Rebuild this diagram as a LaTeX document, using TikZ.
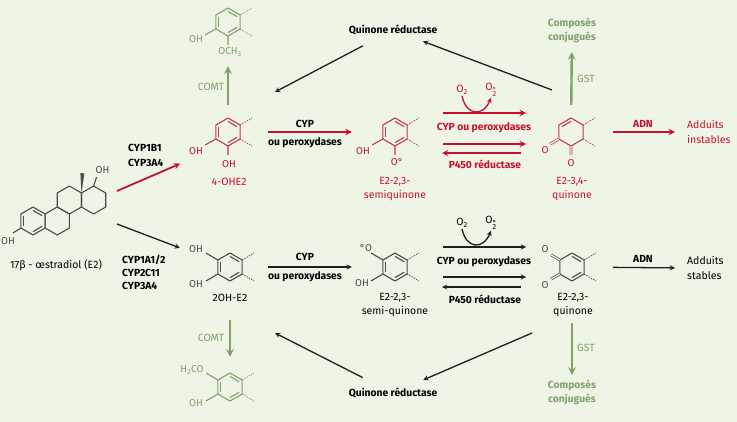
\documentclass[tikz,border=0pt]{standalone}
\usepackage{fontspec}
\setmainfont{Fira Sans}
\usepackage{tikz}
\usetikzlibrary{arrows}
\definecolor{bgcol}{RGB}{238,245,230}
\definecolor{adnred}{RGB}{200,16,46}
\definecolor{ringred}{RGB}{196,58,70}
\definecolor{gstgreen}{RGB}{128,160,108}
\definecolor{inkgray}{RGB}{30,30,30}
\definecolor{ringgray}{RGB}{75,75,75}
\tikzstyle{lab} = [font=\fontsize{10.3}{14}\selectfont\bfseries, align=center, inner sep=1pt]
\tikzstyle{txt} = [font=\fontsize{10.5}{14.5}\selectfont, align=center, inner sep=1pt]
\tikzstyle{atom} = [font=\fontsize{10}{11}\selectfont, inner sep=0pt]
\tikzstyle{mol} = [inner sep=0pt, minimum size=0pt]
\tikzstyle{bond} = [line width=1.1pt, line join=round]
\tikzstyle{stub} = [line width=0.8pt, dash pattern=on 1.4pt off 1.2pt]
\tikzstyle{dbond} = [line width=0.7pt, double=bgcol, double distance=1.3pt]
\tikzstyle{rarrow} = [line width=1.8pt,->,>=stealth,draw=adnred]
\tikzstyle{barrow} = [line width=1.3pt,->,>=stealth,draw=inkgray]
\tikzstyle{garrow} = [line width=2.4pt,->,>=stealth,draw=gstgreen]
\newcommand{\molring}[2]{\draw[#2, bond, shift={(#1)}] (0,-14) -- (12.12,-7) -- (12.12,7) -- (0,14) -- (-12.12,7) -- (-12.12,-7) -- cycle;}
\newcommand{\molinner}[3]{\foreach \a in {#3} \draw[#2, bond, shift={(#1)}] (-\a:10.6) -- (-\a+60:10.6);}
\newcommand{\molstubs}[2]{\draw[#2, stub, shift={(#1)}] (12.12,-7) -- (24,-14) (12.12,7) -- (24,14);}

\begin{document}
\begin{tikzpicture}[x=1pt,y=-1pt]
    \fill[bgcol] (0,0) rectangle (737,422);
    \useasboundingbox (0,0) rectangle (737,422);

    \node (ringa) [mol] at (33,221) {};
    \node (ringb) [mol] at (57.24,221) {};
    \node (ringc) [mol] at (69.36,200) {};
    \node (ringd) [mol] at (93.6,200) {};
    \node (e2) [mol] at (117,207.5) {};
    \node (meth) [mol] at (228,22) {};
    \node (ohe2) [mol] at (228,132) {};
    \node (semi) [mol] at (395,132) {};
    \node (q34) [mol] at (571,132) {};
    \node (twooh) [mol] at (230,267) {};
    \node (semib) [mol] at (395,267) {};
    \node (q23) [mol] at (572,267) {};
    \node (methb) [mol] at (230,387) {};
    \coordinate (qrtl) at (275,92);
    \coordinate (qrtr) at (552,90);
    \coordinate (qrbl) at (275,333);
    \coordinate (qrbr) at (532,333);

    % oestradiol
    \molring{ringa}{ringgray} \molinner{ringa}{ringgray}{90,210,330}
    \molring{ringb}{ringgray} \molring{ringc}{ringgray} \molring{ringd}{ringgray}
    \draw[ringgray, bond, shift={(ringa)}] (-12.12,7) -- (-20,12);
    \fill[ringgray, shift={(ringc)}] (12.12,-7) -- (11,-27) -- (15,-26.5) -- cycle;
    \draw[ringgray, bond, shift={(ringd)}] (0,-14) -- (3,-23);
    \node (e2oh3) [atom, ringgray] at ([shift={(-25,20)}]ringa) {OH};
    \node (e2oh17) [atom, ringgray] at ([shift={(9,-30)}]ringd) {OH};
    \node (e2lab) [txt] at (56,265) {17β - œstradiol (E2)};

    % top row
    \molring{meth}{gstgreen} \molinner{meth}{gstgreen}{90,210,330} \molstubs{meth}{gstgreen}
    \draw[gstgreen, bond, shift={(meth)}] (-12.12,7) -- (-23,13) (0,14) -- (0,23);
    \node (methoh) [atom, gstgreen] at ([shift={(-32,17)}]meth) {OH};
    \node (methoc) [atom, gstgreen] at ([shift={(2,30)}]meth) {OCH\textsubscript{3}};

    \molring{ohe2}{ringred} \molinner{ohe2}{ringred}{90,210,330} \molstubs{ohe2}{ringred}
    \draw[ringred, bond, shift={(ohe2)}] (-12.12,7) -- (-23,13) (0,14) -- (0,23);
    \node (ohe2oh1) [atom, adnred] at ([shift={(-32,19)}]ohe2) {OH};
    \node (ohe2oh2) [atom, adnred] at ([shift={(1,32)}]ohe2) {OH};
    \node (ohe2lab) [txt, adnred] at (229,182) {4-OHE2};

    \molring{semi}{ringred} \molinner{semi}{ringred}{90,210,330} \molstubs{semi}{ringred}
    \draw[ringred, bond, shift={(semi)}] (-12.12,7) -- (-23,13) (0,14) -- (0,23);
    \node (semioh) [atom, adnred] at ([shift={(-32,19)}]semi) {OH};
    \node (semio) [atom, adnred] at ([shift={(2,30)}]semi) {O°};
    \node (semilab) [txt, adnred] at (395,189) {E2-2,3-\\semiquinone};

    \molring{q34}{ringred} \molinner{q34}{ringred}{150} \molstubs{q34}{ringred}
    \draw[ringred, dbond, shift={(q34)}] (-12.12,7) -- (-21,12.2) (0,14) -- (0,23);
    \node (q34o1) [atom, adnred] at ([shift={(-26,18)}]q34) {O};
    \node (q34o2) [atom, adnred] at ([shift={(0,31)}]q34) {O};
    \node (q34lab) [txt, adnred] at (572,189) {E2-3,4-\\quinone};

    % bottom row
    \molring{twooh}{ringgray} \molinner{twooh}{ringgray}{90,210,330} \molstubs{twooh}{ringgray}
    \draw[ringgray, bond, shift={(twooh)}] (-12.12,-7) -- (-24,-14) (-12.12,7) -- (-24,14);
    \node (twooh1) [atom, ringgray] at ([shift={(-34,-18)}]twooh) {OH};
    \node (twooh2) [atom, ringgray] at ([shift={(-34,17)}]twooh) {OH};
    \node (twoohlab) [txt] at (230,298) {2OH-E2};

    \molring{semib}{ringgray} \molinner{semib}{ringgray}{90,210,330} \molstubs{semib}{ringgray}
    \draw[ringgray, bond, shift={(semib)}] (-12.12,-7) -- (-24,-14) (-12.12,7) -- (-24,14);
    \node (semibo) [atom, ringgray] at ([shift={(-29,-19)}]semib) {°O};
    \node (semiboh) [atom, ringgray] at ([shift={(-33,16)}]semib) {OH};
    \node (semiblab) [txt] at (395,305) {E2-2,3-\\semi-quinone};

    \molring{q23}{ringgray} \molinner{q23}{ringgray}{90,330} \molstubs{q23}{ringgray}
    \draw[ringgray, dbond, shift={(q23)}] (-12.12,-7) -- (-21,-12.2) (-12.12,7) -- (-21,12.2);
    \node (q23o1) [atom, ringgray] at ([shift={(-27,-18)}]q23) {O};
    \node (q23o2) [atom, ringgray] at ([shift={(-27,18)}]q23) {O};
    \node (q23lab) [txt] at (573,305) {E2-2,3-\\quinone};

    \molring{methb}{gstgreen} \molinner{methb}{gstgreen}{90,210,330} \molstubs{methb}{gstgreen}
    \draw[gstgreen, bond, shift={(methb)}] (-12.12,-7) -- (-24,-14) (-12.12,7) -- (-24,14);
    \node (methbo) [atom, gstgreen] at ([shift={(-38,-17)}]methb) {H\textsubscript{2}CO};
    \node (methboh) [atom, gstgreen] at ([shift={(-34,16)}]methb) {OH};

    % labels
    \node (qrtop) [lab] at (393,30) {Quinone réductase};
    \node (qrbot) [lab] at (393,393) {Quinone réductase};
    \node (conjtop) [lab, gstgreen] at (572,30) {Composés\\conjugués};
    \node (conjbot) [lab, gstgreen] at (572,392) {Composés\\conjugués};
    \node (comttop) [txt, gstgreen] at (211,87) {COMT};
    \node (comtbot) [txt, gstgreen] at (211,338) {COMT};
    \node (gsttop) [txt, gstgreen] at (586,79) {GST};
    \node (gstbot) [txt, gstgreen] at (586,348) {GST};
    \node (cyptop) [lab, anchor=west, align=left, font=\fontsize{10.3}{15}\selectfont\bfseries] at (127,155) {CYP1B1\\CYP3A4};
    \node (cypbot) [lab, anchor=west, align=left, font=\fontsize{10.3}{13}\selectfont\bfseries] at (121,272) {CYP1A1/2\\CYP2C11\\CYP3A4};
    \node (cyp1) [lab] at (305,124) {CYP};
    \node (oup1) [lab] at (305,143) {ou peroxydases};
    \node (cyp2) [lab] at (305,257) {CYP};
    \node (oup2) [lab] at (305,277) {ou peroxydases};
    \node (o2a) [txt, adnred] at (462,90) {O\textsubscript{2}};
    \node (o2b) [txt, adnred] at (491,90) {O\textsubscript{\makebox[0pt][l]{\raisebox{1.15ex}{°}}2}};
    \node (o2c) [txt] at (462,223) {O\textsubscript{2}};
    \node (o2d) [txt] at (491,223) {O\textsubscript{\makebox[0pt][l]{\raisebox{1.15ex}{°}}2}};
    \node (peroxa) [lab, adnred] at (484,128) {CYP ou peroxydases};
    \node (p450a) [lab, adnred] at (485,164) {P450 réductase};
    \node (peroxb) [lab] at (484,262) {CYP ou peroxydases};
    \node (p450b) [lab] at (485,299) {P450 réductase};
    \node (adn1) [lab, adnred] at (643,124) {ADN};
    \node (adn2) [lab] at (643,259) {ADN};
    \node (instab) [txt, adnred, anchor=west, align=left] at (686,132) {Adduits\\instables};
    \node (stab) [txt, anchor=west, align=left] at (686,268) {Adduits\\stables};

    % connectors
    \draw [rarrow, shorten >=52pt] ([yshift=16.5pt]e2.center) -- ([yshift=-11pt]ohe2.center);
    \draw [barrow, shorten >=53.5pt] ([yshift=-16.5pt]e2.center) -- (twooh);
    \draw [garrow, shorten <=27pt, shorten >=44pt] (ohe2) -- (meth);
    \draw [garrow, shorten <=53pt, shorten >=30pt] (twooh) -- (methb);
    \draw [rarrow, shorten <=40pt, shorten >=43pt] (ohe2) -- (semi);
    \draw [barrow, shorten <=38pt, shorten >=43pt] (twooh) -- (semib);
    \draw [rarrow, shorten <=48pt, shorten >=45pt] ([yshift=19pt]semi.center) -- ([yshift=19pt]q34.center);
    \draw [rarrow, shorten <=48pt, shorten >=45pt] ([yshift=-12pt]semi.center) -- ([yshift=-12pt]q34.center);
    \draw [rarrow, shorten <=50pt, shorten >=47pt] ([yshift=-21pt]q34.center) -- ([yshift=-21pt]semi.center);
    \draw [barrow, shorten <=48pt, shorten >=46pt] ([yshift=20pt]semib.center) -- ([yshift=20pt]q23.center);
    \draw [barrow, shorten <=48pt, shorten >=46pt] ([yshift=-10pt]semib.center) -- ([yshift=-10pt]q23.center);
    \draw [barrow, shorten <=51pt, shorten >=47pt] ([yshift=-20pt]q23.center) -- ([yshift=-20pt]semib.center);
    \draw [rarrow, line width=1.3pt] (o2a.south) .. controls (466,116) and (483,117) .. (o2b.south);
    \draw [barrow] (o2c.south) .. controls (466,249) and (483,250) .. (o2d.south);
    \draw [garrow, shorten <=27pt, shorten >=22pt] (q34) -- (conjtop.center);
    \draw [garrow, shorten <=56pt, shorten >=17pt] (q23) -- (conjbot.center);
    \draw [rarrow, shorten <=42pt, shorten >=11pt] (q34) -- (instab.west);
    \draw [barrow, shorten <=41pt, shorten >=11pt] (q23) -- (stab.west);
    \draw [barrow, shorten <=34pt] (qrtop.center) -- (qrtl);
    \draw [barrow, shorten >=32pt] (qrtr) -- (qrtop.center);
    \draw [barrow, shorten <=34pt] (qrbot.center) -- (qrbl);
    \draw [barrow, shorten >=33pt] (qrbr) -- (qrbot.center);
\end{tikzpicture}
\end{document}
